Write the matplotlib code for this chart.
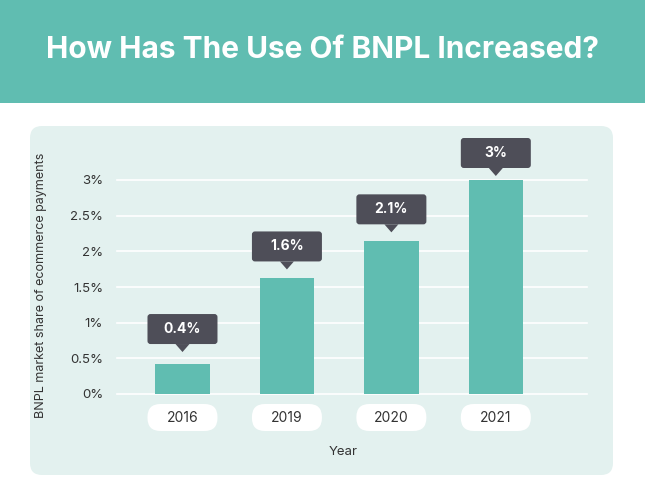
import matplotlib
matplotlib.use("Agg")
import matplotlib.pyplot as plt
from matplotlib.patches import FancyBboxPatch, Rectangle, Polygon
from matplotlib.transforms import Affine2D

# data
years = ["2016", "2019", "2020", "2021"]
share = [0.42, 1.62, 2.14, 3.0]
share_labels = ["0.4%", "1.6%", "2.1%", "3%"]
yticks = [0, 0.5, 1, 1.5, 2, 2.5, 3]
ytick_labels = ["0%", "0.5%", "1%", "1.5%", "2%", "2.5%", "3%"]

TEAL = "#60BDB1"
PANEL = "#E3F1EF"
DARK = "#4E4E58"
TEXT = "#333333"

W, H = 645, 499
fig = plt.figure(figsize=(W / 100, H / 100), dpi=100)
fig.patch.set_facecolor("white")

# pixel transform (origin top-left)
px = Affine2D().scale(1, -1).translate(0, H)

# header band + title
fig.patches.append(Rectangle((0, 0), W, 103, transform=px, facecolor=TEAL,
                             edgecolor="none", zorder=-2))
fig.text(0.5, 1 - 50 / H, "How Has The Use Of BNPL Increased?", ha="center",
         va="center", color="white", fontsize=21.5, fontweight="bold",
         family="Inter")

# light panel
fig.patches.append(FancyBboxPatch((30, 126), 583, 349, transform=px,
                                  boxstyle="round,pad=0,rounding_size=12",
                                  facecolor=PANEL, edgecolor="none", zorder=-2))

# axes placed in pixels
ax_left, ax_right, ax_top, ax_bot = 117, 587, 180, 394
ax = fig.add_axes([ax_left / W, 1 - ax_bot / H, (ax_right - ax_left) / W,
                   (ax_bot - ax_top) / H])
ax.set_zorder(1)
ax.set_facecolor("none")
x = list(range(len(years)))
ax.bar(x, share, width=0.52, color=TEAL, zorder=3)
ax.set_xlim(-0.627, 3.873)
ax.set_ylim(0, 3.0)
ax.set_yticks(yticks)
ax.set_yticklabels(ytick_labels, fontsize=9.5, color=TEXT, family="Inter")
ax.set_xticks([])
ax.tick_params(axis="y", length=0, pad=10)
for s in ax.spines.values():
    s.set_visible(False)
for t in yticks:
    ax.axhline(t, color="white", lw=1.2, zorder=1, clip_on=False)

# tooltips and year pills
gaps = [12, 9, 9, 4]
for xi, v, lab, yr, gap in zip(x, share, share_labels, years, gaps):
    cx, cy = ax.transData.transform((xi, v))
    cy = H - cy
    tip = cy - gap
    fig.patches.append(Polygon([(cx - 7, tip - 8), (cx + 7, tip - 8), (cx, tip)],
                               closed=True, transform=px, facecolor=DARK,
                               edgecolor="none", zorder=4))
    fig.patches.append(FancyBboxPatch((cx - 35, tip - 38), 70, 30, transform=px,
                                      boxstyle="round,pad=0,rounding_size=3",
                                      facecolor=DARK, edgecolor="none", zorder=4))
    fig.text(cx / W, 1 - (tip - 23) / H, lab, ha="center", va="center",
             color="white", fontsize=10, fontweight="bold", family="Inter",
             zorder=5)
    fig.patches.append(FancyBboxPatch((cx - 35, 404), 70, 27, transform=px,
                                      boxstyle="round,pad=0,rounding_size=13",
                                      facecolor="white", edgecolor="none",
                                      zorder=4))
    fig.text(cx / W, 1 - 418 / H, yr, ha="center", va="center", color=TEXT,
             fontsize=10, family="Inter", zorder=5)

fig.text(343 / W, 1 - 452 / H, "Year", ha="center", va="center", color=TEXT,
         fontsize=9.5, family="Inter")
fig.text(41 / W, 1 - 285 / H, "BNPL market share of ecommerce payments",
         ha="center", va="center", rotation=90, color=TEXT, fontsize=9,
         family="Inter")

fig.savefig("out.png", dpi=100)
